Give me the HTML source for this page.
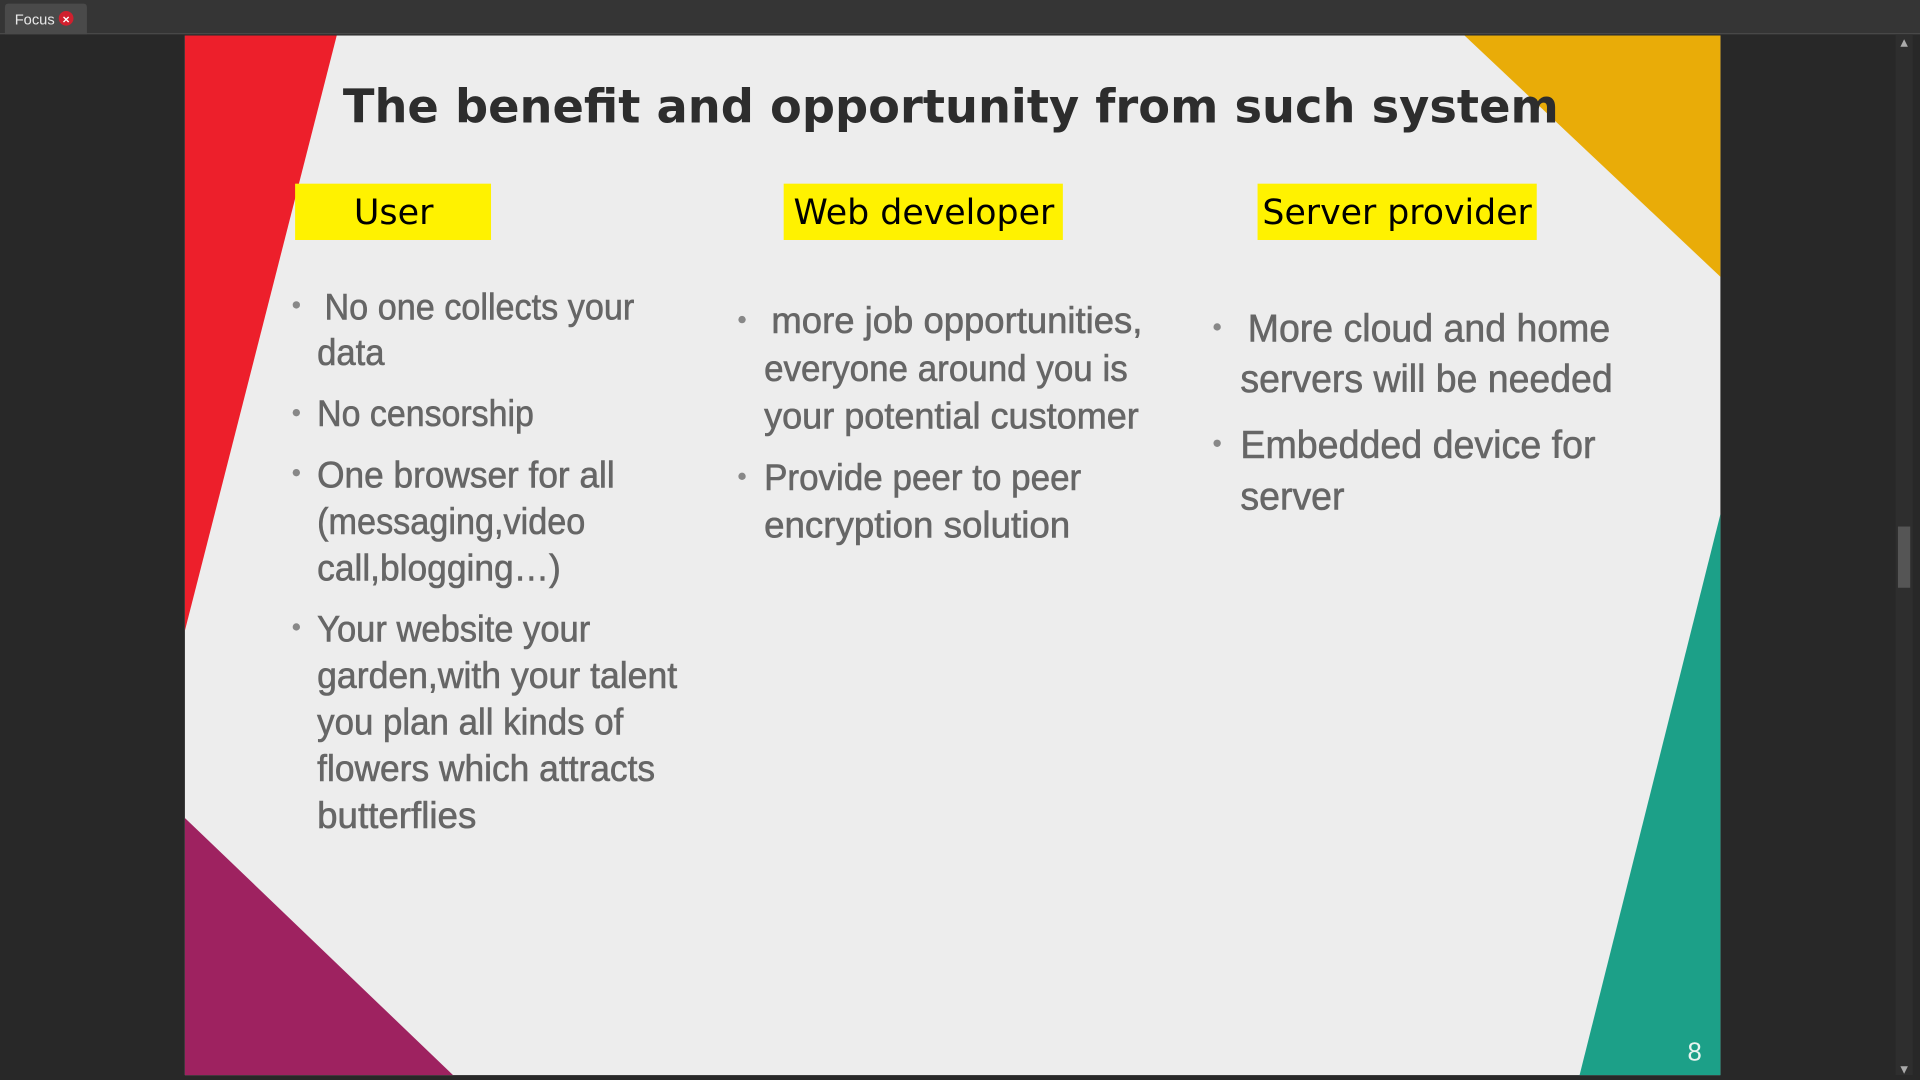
<!DOCTYPE html>
<html><head><meta charset="utf-8"><style>
html,body{margin:0;padding:0;background:#282828;overflow:hidden}
svg{display:block}
</style></head><body>
<svg width="1920" height="1080" viewBox="0 0 1568 882" xmlns="http://www.w3.org/2000/svg">
<rect x="0" y="0" width="1568" height="882" fill="#282828"/>
<rect x="0" y="0" width="1568" height="28" fill="#353535"/>
<rect x="0" y="27" width="1568" height="1" fill="#4a4a4a"/>
<path d="M4 28 V6 Q4 3 7 3 H68 Q71 3 71 6 V28 Z" fill="#4a4a4a"/>
<text x="12" y="20" font-family="Liberation Sans, sans-serif" font-size="12" fill="#e8e8e8">Focus</text>
<circle cx="54" cy="15" r="6" fill="#d0202e"/>
<text x="54" y="19" text-anchor="middle" font-family="Liberation Sans, sans-serif" font-size="10" font-weight="bold" fill="#fff">×</text>
<rect x="1548" y="28" width="14" height="850" fill="#2e2e2e"/>
<rect x="1550" y="430" width="10" height="50" fill="#555"/>
<text x="1555" y="37" text-anchor="middle" font-size="8" fill="#aaa" font-family="DejaVu Sans">▲</text>
<text x="1555" y="876" text-anchor="middle" font-size="8" fill="#aaa" font-family="DejaVu Sans">▼</text>

<rect x="151" y="29" width="1254" height="849" fill="#ededed"/>
<polygon points="151,29 275,29 151,515" fill="#ed1f2b"/>
<polygon points="1196,29 1405,29 1405,226" fill="#e9ac08"/>
<polygon points="1405,420 1405,878 1290,878" fill="#1ca088"/>
<polygon points="151,668 151,878 370,878" fill="#9e2260"/>

<text x="280" y="100" font-family="DejaVu Sans, sans-serif" font-weight="bold" font-size="38" fill="#2d2d2d" textLength="993" lengthAdjust="spacingAndGlyphs">The benefit and opportunity from such system</text>

<rect x="241" y="150" width="160" height="46" fill="#fff200"/>
<rect x="640" y="150" width="228" height="46" fill="#fff200"/>
<rect x="1027" y="150" width="228" height="46" fill="#fff200"/>
<g font-family="DejaVu Sans, sans-serif" font-size="28" fill="#000">
<text x="289" y="183" textLength="65" lengthAdjust="spacingAndGlyphs">User</text>
<text x="648" y="183" textLength="213" lengthAdjust="spacingAndGlyphs">Web developer</text>
<text x="1031" y="183" textLength="220" lengthAdjust="spacingAndGlyphs">Server provider</text>
</g>

<g fill="#888"><circle cx="242" cy="249" r="3"/><circle cx="242" cy="337" r="3"/><circle cx="242" cy="386" r="3"/><circle cx="242" cy="512" r="3"/>
<circle cx="606" cy="261" r="3"/><circle cx="606" cy="389" r="3"/>
<circle cx="994" cy="267" r="3"/><circle cx="994" cy="362" r="3"/></g>
<g font-family="Liberation Sans, sans-serif" font-size="30" fill="#666" stroke="#666" stroke-width="0.5" lengthAdjust="spacingAndGlyphs">
<text x="265" y="261" textLength="253" lengthAdjust="spacingAndGlyphs">No one collects your</text>
<text x="259" y="298" textLength="55" lengthAdjust="spacingAndGlyphs">data</text>
<text x="259" y="348" textLength="177" lengthAdjust="spacingAndGlyphs">No censorship</text>
<text x="259" y="398" textLength="243" lengthAdjust="spacingAndGlyphs">One browser for  all</text>
<text x="259" y="436" textLength="219" lengthAdjust="spacingAndGlyphs">(messaging,video</text>
<text x="259" y="474" textLength="199" lengthAdjust="spacingAndGlyphs">call,blogging…)</text>
<text x="259" y="524" textLength="223" lengthAdjust="spacingAndGlyphs">Your website your</text>
<text x="259" y="562" textLength="294" lengthAdjust="spacingAndGlyphs">garden,with your talent</text>
<text x="259" y="600" textLength="250" lengthAdjust="spacingAndGlyphs">you plan all kinds of</text>
<text x="259" y="638" textLength="276" lengthAdjust="spacingAndGlyphs">flowers which attracts</text>
<text x="259" y="676" textLength="130" lengthAdjust="spacingAndGlyphs">butterflies</text>

<text x="630" y="272" textLength="303" lengthAdjust="spacingAndGlyphs">more job opportunities,</text>
<text x="624" y="311" textLength="297" lengthAdjust="spacingAndGlyphs">everyone around you is</text>
<text x="624" y="350" textLength="306" lengthAdjust="spacingAndGlyphs">your potential customer</text>
<text x="624" y="400" textLength="259" lengthAdjust="spacingAndGlyphs">Provide peer to peer</text>
<text x="624" y="439" textLength="250" lengthAdjust="spacingAndGlyphs">encryption solution</text>

<g font-size="32">
<text x="1019" y="279" textLength="296" lengthAdjust="spacingAndGlyphs">More cloud and home</text>
<text x="1013" y="320" textLength="304" lengthAdjust="spacingAndGlyphs">servers will be needed</text>
<text x="1013" y="374" textLength="290" lengthAdjust="spacingAndGlyphs">Embedded device for</text>
<text x="1013" y="416" textLength="85" lengthAdjust="spacingAndGlyphs">server</text>
</g>
</g>
<text x="1384" y="866" text-anchor="middle" font-family="Liberation Sans, sans-serif" font-size="21" fill="#e8f4f0">8</text>
</svg>
</body></html>
